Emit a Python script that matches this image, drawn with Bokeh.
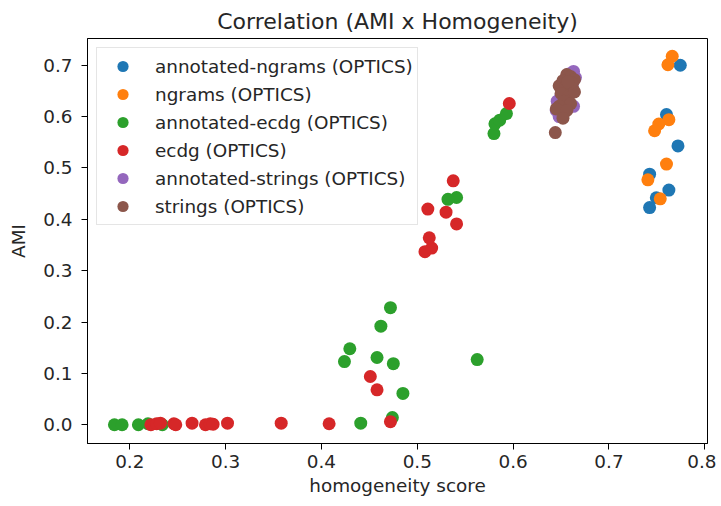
from bokeh.plotting import figure
from bokeh.models import Range1d, FixedTicker, Legend, LegendItem, NumeralTickFormatter
from bokeh.embed import file_html
from bokeh.resources import INLINE

# ---- data ----
series_names = [
    "annotated-ngrams (OPTICS)", "ngrams (OPTICS)", "annotated-ecdg (OPTICS)",
    "ecdg (OPTICS)", "annotated-strings (OPTICS)", "strings (OPTICS)",
]
colors = ["#1f77b4", "#ff7f0e", "#2ca02c", "#d62728", "#9467bd", "#8c564b"]

ann_ngrams_x = [0.7744, 0.760, 0.772, 0.7424, 0.7625, 0.7494, 0.7424]
ann_ngrams_y = [0.700, 0.604, 0.543, 0.488, 0.457, 0.442, 0.4228]

ngrams_x = [0.766, 0.7615, 0.7625, 0.752, 0.7476, 0.760, 0.7406, 0.7535]
ngrams_y = [0.7175, 0.701, 0.594, 0.5856, 0.5725, 0.5075, 0.477, 0.440]

ann_ecdg_x = [0.184, 0.192, 0.209, 0.219, 0.234, 0.441, 0.424, 0.4296, 0.458, 0.462,
              0.472, 0.475, 0.485, 0.474, 0.5625, 0.541, 0.532, 0.580, 0.581, 0.586, 0.593]
ann_ecdg_y = [0.0, 0.0, 0.0, 0.002, 0.0, 0.003, 0.123, 0.148, 0.131, 0.192,
              0.228, 0.119, 0.061, 0.014, 0.127, 0.4425, 0.439, 0.567, 0.586, 0.593, 0.606]

ecdg_x = [0.222, 0.228, 0.232, 0.246, 0.248, 0.265, 0.279, 0.284, 0.287, 0.302, 0.358,
          0.408, 0.472, 0.451, 0.458, 0.508, 0.515, 0.5125, 0.511, 0.530, 0.541, 0.5375, 0.596]
ecdg_y = [0.0, 0.002, 0.003, 0.002, 0.0, 0.003, 0.0, 0.002, 0.001, 0.003, 0.003,
          0.002, 0.006, 0.094, 0.068, 0.337, 0.344, 0.364, 0.42, 0.414, 0.391, 0.475, 0.6255]

ann_strings_x = [0.663, 0.658, 0.660, 0.646, 0.645, 0.648, 0.663, 0.655, 0.662, 0.650, 0.665]
ann_strings_y = [0.688, 0.683, 0.675, 0.630, 0.612, 0.600, 0.620, 0.650, 0.665, 0.640, 0.676]

strings_x = [0.656, 0.660, 0.664, 0.652, 0.648, 0.655, 0.662, 0.650, 0.658, 0.664,
             0.653, 0.660, 0.648, 0.645, 0.656, 0.652, 0.644, 0.661, 0.657]
strings_y = [0.682, 0.678, 0.672, 0.670, 0.660, 0.660, 0.655, 0.645, 0.640, 0.648,
             0.630, 0.625, 0.620, 0.615, 0.612, 0.597, 0.569, 0.666, 0.668]

xs = [ann_ngrams_x, ngrams_x, ann_ecdg_x, ecdg_x, ann_strings_x, strings_x]
ys = [ann_ngrams_y, ngrams_y, ann_ecdg_y, ecdg_y, ann_strings_y, strings_y]

x_ticks = [0.2, 0.3, 0.4, 0.5, 0.6, 0.7, 0.8]
y_ticks = [0.0, 0.1, 0.2, 0.3, 0.4, 0.5, 0.6, 0.7]

FONT = "DejaVu Sans"
TXT = "#262626"
FS = "18.4px"

p = figure(frame_width=620, frame_height=405, output_backend="svg", toolbar_location=None,
           x_range=Range1d(0.1559, 0.8028), y_range=Range1d(-0.0365, 0.7521),
           min_border_left=87, min_border_right=9, min_border_top=38, min_border_bottom=58,
           title="Correlation (AMI x Homogeneity)")

p.title.align = "center"
p.title.text_font = FONT
p.title.text_font_size = "22px"
p.title.text_font_style = "normal"
p.title.text_color = TXT

p.xgrid.visible = False
p.ygrid.visible = False
p.outline_line_color = "black"
p.outline_line_width = 1
p.background_fill_color = "white"
p.border_fill_color = "white"

for ax, ticks in ((p.xaxis[0], x_ticks), (p.yaxis[0], y_ticks)):
    ax.ticker = FixedTicker(ticks=ticks)
    ax.formatter = NumeralTickFormatter(format="0.0")
    ax.minor_tick_line_color = None
    ax.major_tick_in = 0
    ax.major_tick_out = 6
    ax.major_tick_line_color = "black"
    ax.axis_line_color = "black"
    ax.major_label_text_font = FONT
    ax.major_label_text_font_size = FS
    ax.major_label_text_color = TXT
    ax.axis_label_text_font = FONT
    ax.axis_label_text_font_size = FS
    ax.axis_label_text_font_style = "normal"
    ax.axis_label_text_color = TXT

p.xaxis.axis_label = "homogeneity score"
p.yaxis.axis_label = "AMI"
p.xaxis.major_label_standoff = 5
p.xaxis.axis_label_standoff = 4
p.yaxis.major_label_standoff = 9
p.yaxis.axis_label_standoff = 11

items = []
for name, c, x, y in zip(series_names, colors, xs, ys):
    r = p.scatter(x=x, y=y, size=13, marker="circle", fill_color=c, line_color=c, line_width=0)
    items.append(LegendItem(label=name, renderers=[r]))

legend = Legend(items=items, location="top_left")
legend.label_text_font = FONT
legend.label_text_font_size = FS
legend.label_text_color = TXT
legend.border_line_color = "#cccccc"
legend.border_line_width = 1
legend.background_fill_alpha = 0.8
legend.glyph_width = 43
legend.glyph_height = 28
legend.label_height = 28
legend.spacing = 0
legend.padding = 4
legend.margin = 9
legend.label_standoff = 11
p.add_layout(legend)

open("out.html", "w").write(file_html(p, INLINE))
